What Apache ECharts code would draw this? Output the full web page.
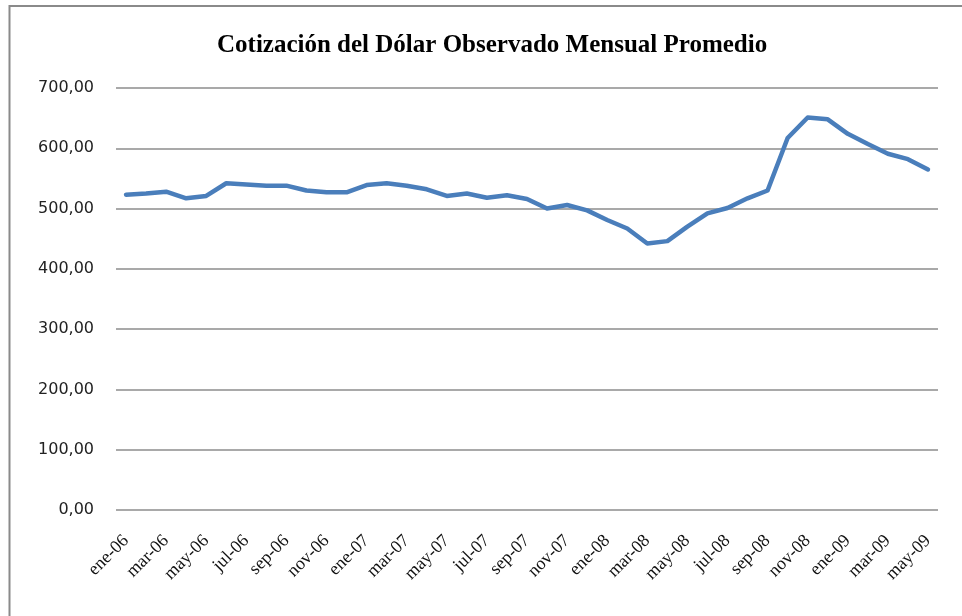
<!DOCTYPE html>
<html>
<head>
<meta charset="utf-8">
<script src="https://cdn.jsdelivr.net/npm/echarts@6/dist/echarts.min.js"></script>
<style>html,body{margin:0;padding:0;background:#fff}#c{width:962px;height:616px}</style>
</head>
<body>
<div id="c"></div>
<script>
const titleText = "Cotización del Dólar Observado Mensual Promedio";
const months = [
  "ene-06","feb-06","mar-06","abr-06","may-06","jun-06","jul-06","ago-06","sep-06","oct-06","nov-06","dic-06",
  "ene-07","feb-07","mar-07","abr-07","may-07","jun-07","jul-07","ago-07","sep-07","oct-07","nov-07","dic-07",
  "ene-08","feb-08","mar-08","abr-08","may-08","jun-08","jul-08","ago-08","sep-08","oct-08","nov-08","dic-08",
  "ene-09","feb-09","mar-09","abr-09","may-09"
];
const dolar = [
  523, 525, 528, 517, 521, 542, 540, 538, 538, 530, 527, 527,
  539, 542, 538, 532, 521, 525, 518, 522, 516, 500, 506, 497,
  481, 467, 442, 446, 470, 492, 501, 517, 530, 617, 651, 648,
  624, 607, 591, 582, 565
];
const yTicks = {min: 0, max: 700, interval: 100};

const chart = echarts.init(document.getElementById('c'), null, {renderer: 'canvas'});
chart.setOption({
  animation: false,
  backgroundColor: '#fff',
  title: {
    text: titleText,
    left: 212,
    top: 28,
    textStyle: {fontFamily: 'Liberation Serif', fontWeight: 'bold', fontSize: 25, color: '#000'}
  },
  graphic: [{
    type: 'rect', silent: true, z: 100,
    shape: {x: 9.5, y: 6, width: 1000, height: 700},
    style: {fill: 'none', stroke: '#8a8a8a', lineWidth: 2}
  }],
  grid: {left: 116, right: 24, top: 88, bottom: 106, containLabel: false},
  xAxis: {
    type: 'category',
    data: months,
    boundaryGap: true,
    axisLine: {show: false},
    axisTick: {show: false},
    axisLabel: {
      interval: 1, rotate: 45, margin: 28,
      fontFamily: 'Liberation Serif', fontSize: 18, color: '#111'
    }
  },
  yAxis: {
    type: 'value',
    min: yTicks.min, max: yTicks.max, interval: yTicks.interval,
    axisLine: {show: false},
    axisTick: {show: false},
    splitLine: {lineStyle: {color: '#8c8c8c', width: 1.5}},
    axisLabel: {
      margin: 22,
      fontFamily: 'DejaVu Sans', fontSize: 16, color: '#222',
      formatter: v => v.toFixed(2).replace('.', ',')
    }
  },
  series: [{
    type: 'line',
    data: dolar,
    showSymbol: false,
    symbol: 'none',
    lineStyle: {color: '#4a7ebb', width: 4.5, join: 'round', cap: 'round'}
  }]
});
</script>
</body>
</html>
